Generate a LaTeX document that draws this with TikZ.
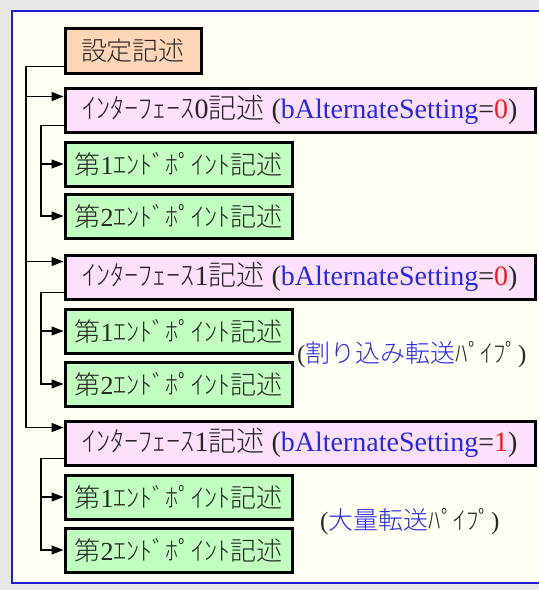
\documentclass[tikz,border=0pt]{standalone}
\usepackage{fontspec}
\setmainfont{Liberation Serif}
\IfFontExistsTF{Noto Sans CJK JP Light}{\newfontfamily\jp{Noto Sans CJK JP Light}}{\newfontfamily\jp{Noto Sans CJK JP}}
\usetikzlibrary{arrows.meta,calc}
\definecolor{bgray}{RGB}{232,232,232}
\definecolor{ivory}{RGB}{255,255,246}
\definecolor{frameblue}{RGB}{30,30,210}
\definecolor{peach}{RGB}{255,213,184}
\definecolor{pinkbox}{RGB}{252,224,252}
\definecolor{greenbox}{RGB}{192,255,192}
\definecolor{tblue}{RGB}{40,40,230}
\definecolor{tred}{RGB}{255,20,20}
\newcommand\J[1]{{\jp #1}}
\begin{document}
\begin{tikzpicture}[x=1pt,y=-1pt,
  font=\fontsize{26}{30}\selectfont,
  boxbase/.style={draw=black,line width=3pt,inner sep=0pt,anchor=north west,text=black!85},
  setbox/.style={boxbase,fill=peach,minimum width=136pt,minimum height=45pt},
  ifbox/.style={boxbase,fill=pinkbox,minimum width=470pt,minimum height=44pt,font=\fontsize{28}{30}\selectfont},
  epbox/.style={boxbase,fill=greenbox,minimum width=227pt,minimum height=44pt},
  wire/.style={line width=1.3pt,black},
  arr/.style={wire,-{Triangle[length=12pt,width=9pt]}},
  note/.style={anchor=west,inner sep=0pt,text=black!85,font=\fontsize{25}{28}\selectfont}]
\useasboundingbox (0,0) rectangle (539,590);
\clip (0,0) rectangle (539,590);
\fill[bgray] (0,0) rectangle (539,590);
\filldraw[fill=ivory,draw=frameblue,line width=2pt] (12,11) rectangle (570,583);

\node[setbox] (set) at (63.5,26.5) {\J{設定記述}};
\node[ifbox] (if0) at (63.5,86.5) {\J{ｲﾝﾀｰﾌｪｰｽ}0\J{記述} (\textcolor{tblue}{bAlternateSetting}=\textcolor{tred}{0})};
\node[epbox] (g01) at (63.5,140.5) {\J{第}1\J{ｴﾝﾄﾞﾎﾟｲﾝﾄ記述}};
\node[epbox] (g02) at (63.5,192.5) {\J{第}2\J{ｴﾝﾄﾞﾎﾟｲﾝﾄ記述}};
\node[ifbox] (if1) at (63.5,253.5) {\J{ｲﾝﾀｰﾌｪｰｽ}1\J{記述} (\textcolor{tblue}{bAlternateSetting}=\textcolor{tred}{0})};
\node[epbox] (g11) at (63.5,307.5) {\J{第}1\J{ｴﾝﾄﾞﾎﾟｲﾝﾄ記述}};
\node[epbox] (g12) at (63.5,360.5) {\J{第}2\J{ｴﾝﾄﾞﾎﾟｲﾝﾄ記述}};
\node[ifbox] (if2) at (63.5,419.5) {\J{ｲﾝﾀｰﾌｪｰｽ}1\J{記述} (\textcolor{tblue}{bAlternateSetting}=\textcolor{tred}{1})};
\node[epbox] (g21) at (63.5,473.5) {\J{第}1\J{ｴﾝﾄﾞﾎﾟｲﾝﾄ記述}};
\node[epbox] (g22) at (63.5,526.5) {\J{第}2\J{ｴﾝﾄﾞﾎﾟｲﾝﾄ記述}};

\node[note] (n1) at (297,355) {(\textcolor{tblue}{\J{割り込み転送}}\J{ﾊﾟｲﾌﾟ})};
\node[note] (n2) at (320,522) {(\textcolor{tblue}{\J{大量転送}}\J{ﾊﾟｲﾌﾟ})};

\coordinate (T) at (26,0);
\coordinate (S) at (41,0);
\coordinate (a0) at ([yshift=-10pt]if0.north west);
\coordinate (a1) at ([yshift=-8pt]if1.north west);
\coordinate (a2) at ([yshift=-8pt]if2.north west);

\draw[arr] ([yshift=8pt]set.south west) -| (T |- a2) -- (a2);
\draw[arr] (T |- a0) -- (a0);
\draw[arr] (T |- a1) -- (a1);

\draw[arr] ([yshift=8pt]if0.south west) -| (S |- g02.west) -- (g02.west);
\draw[arr] (S |- g01.west) -- (g01.west);
\draw[arr] ([yshift=8pt]if1.south west) -| (S |- g12.west) -- (g12.west);
\draw[arr] (S |- g11.west) -- (g11.west);
\draw[arr] ([yshift=8pt]if2.south west) -| (S |- g22.west) -- (g22.west);
\draw[arr] (S |- g21.west) -- (g21.west);
\end{tikzpicture}
\end{document}
